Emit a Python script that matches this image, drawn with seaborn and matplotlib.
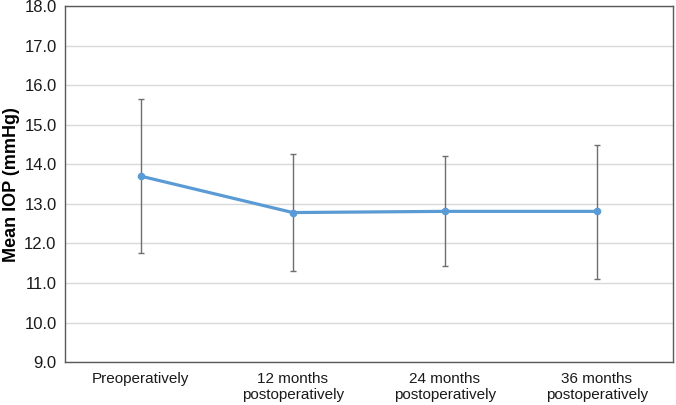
import numpy as np
import pandas as pd
import matplotlib
matplotlib.use("Agg")
import matplotlib.pyplot as plt
import seaborn as sns

# values
timepoints = ["Preoperatively", "12 months\npostoperatively",
              "24 months\npostoperatively", "36 months\npostoperatively"]
mean_iop = [13.70, 12.78, 12.81, 12.81]
err_low = [11.77, 11.29, 11.42, 11.11]
err_high = [15.64, 14.26, 14.20, 14.50]

df = pd.DataFrame({"timepoint": timepoints, "iop": mean_iop})

sns.set_theme(style="white")
plt.rcParams["font.family"] = ["Liberation Sans", "DejaVu Sans"]

fig, ax = plt.subplots(figsize=(6.76, 4.05), dpi=100)
fig.subplots_adjust(left=0.096, right=0.995, top=0.985, bottom=0.106)

mean = np.array(mean_iop)
yerr = np.vstack([mean - np.array(err_low), np.array(err_high) - mean])
ax.errorbar(np.arange(len(timepoints)), mean, yerr=yerr, fmt="none",
            ecolor="#6e6e6e", elinewidth=1.0, capsize=2.5, capthick=1.0, zorder=2)

sns.lineplot(data=df, x="timepoint", y="iop", ax=ax, sort=False,
             color="#5b9bd5", linewidth=2.3, marker="o", markersize=5.5,
             markeredgewidth=0, zorder=3)

ax.set_ylim(9, 18)
ax.set_yticks(np.arange(9, 18.5, 1.0))
ax.set_yticklabels([f"{v:.1f}" for v in np.arange(9, 18.5, 1.0)])
ax.set_xlim(-0.5, len(timepoints) - 0.5)
ax.set_xticks(range(len(timepoints)))
ax.set_xticklabels(timepoints)

ax.yaxis.grid(True, color="#d9d9d9", linewidth=1.0)
ax.set_axisbelow(True)
for side in ax.spines.values():
    side.set_color("#595959")
    side.set_linewidth(1.0)

ax.tick_params(axis="both", length=0, colors="#1a1a1a")
ax.tick_params(axis="y", labelsize=12, pad=6)
ax.tick_params(axis="x", labelsize=11, pad=7)
ax.set_xlabel("")
ax.set_ylabel("Mean IOP (mmHg)", fontsize=13, fontweight="bold", color="black", labelpad=3)

fig.savefig("out.png", dpi=100)
